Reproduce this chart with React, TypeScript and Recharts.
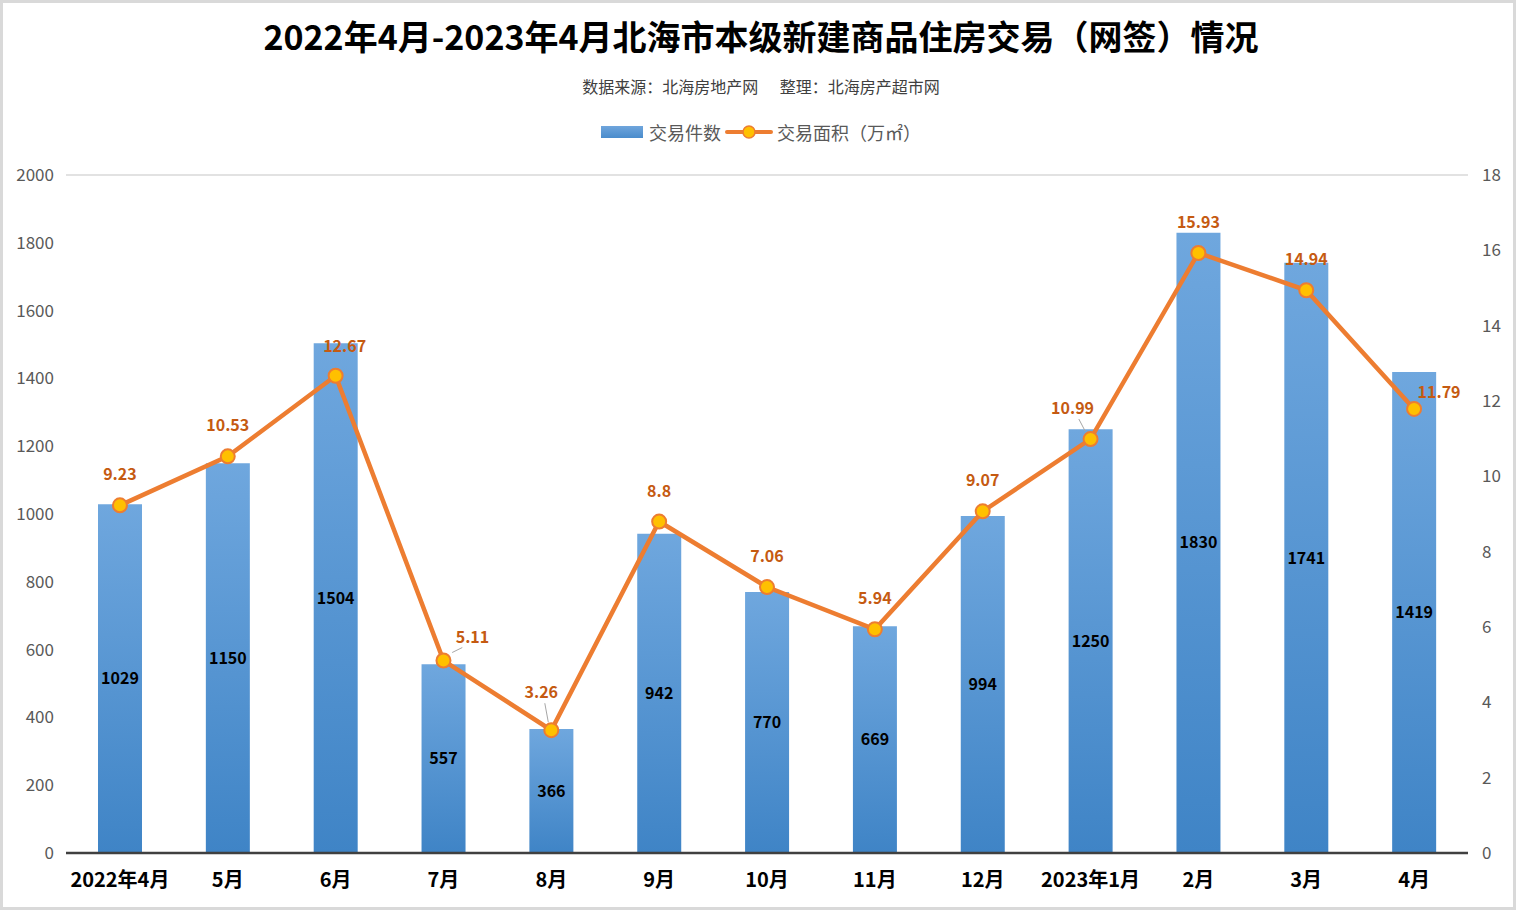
import React from "react"
import { Bar, ComposedChart, Line, XAxis, YAxis, CartesianGrid, LabelList } from "recharts"

const months = ["2022年4月", "5月", "6月", "7月", "8月", "9月", "10月", "11月", "12月", "2023年1月", "2月", "3月", "4月"]
const deals = [1029, 1150, 1504, 557, 366, 942, 770, 669, 994, 1250, 1830, 1741, 1419]
const area = [9.23, 10.53, 12.67, 5.11, 3.26, 8.8, 7.06, 5.94, 9.07, 10.99, 15.93, 14.94, 11.79]
const leftTicks = [0, 200, 400, 600, 800, 1000, 1200, 1400, 1600, 1800, 2000]
const rightTicks = [0, 2, 4, 6, 8, 10, 12, 14, 16, 18]

const data = months.map((m, i) => ({ month: m, deals: deals[i], area: area[i] }))

const font = "'Noto Sans CJK SC', 'Noto Sans', sans-serif"

// label nudges (dx, dy of label centre from the point), like the hand-moved labels in the original
const nudge: Record<number, [number, number, boolean]> = {
  2: [9, -30, false],
  3: [29, -24, true],
  4: [-10, -38, true],
  9: [-18, -31, true],
  12: [25, -17, false],
}

const AreaLabel = (props: any) => {
  const { x, y, value, index } = props
  const [dx, dy, leader] = nudge[index] ?? [0, -31, false]
  const lx = x + dx
  const ly = y + dy
  return (
    <g>
      {leader && (
        <line
          x1={x + dx * 0.3}
          y1={y + (dy < 0 ? -8 : 8)}
          x2={lx + (dx > 0 ? -dx * 0.35 : -dx * 0.35)}
          y2={ly + 11}
          stroke="#a6a6a6"
          strokeWidth={1}
        />
      )}
      <text x={lx} y={ly + 6} textAnchor="middle" fill="#c55a11" fontSize={16} fontWeight="bold" fontFamily={font}>
        {value}
      </text>
    </g>
  )
}

export default function App() {
  return (
    <div
      style={{
        position: "absolute",
        left: 0,
        top: 0,
        width: 1516,
        height: 910,
        background: "#fff",
        boxSizing: "border-box",
        border: "3px solid #d9d9d9",
        fontFamily: font,
      }}
    >
      <div style={{ position: "absolute", top: 8, left: 0, width: 1516, textAlign: "center", fontSize: 34, fontWeight: "bold", color: "#000" }}>
        2022年4月-2023年4月北海市本级新建商品住房交易（网签）情况
      </div>
      <div style={{ position: "absolute", top: 71, left: 0, width: 1516, textAlign: "center", fontSize: 16, color: "#404040" }}>
        数据来源：北海房地产网&nbsp;&nbsp;&nbsp;&nbsp;&nbsp;&nbsp;整理：北海房产超市网
      </div>
      <div style={{ position: "absolute", top: 116, left: 0, width: 1516, display: "flex", justifyContent: "center", alignItems: "center", fontSize: 18, color: "#595959" }}>
        <span style={{ display: "inline-block", width: 42, height: 12, background: "linear-gradient(#6fa5dc, #4a8ccc)", marginRight: 6 }} />
        <span>交易件数</span>
        <svg width={48} height={20} style={{ margin: "0 4px" }}>
          <line x1={2} y1={10} x2={46} y2={10} stroke="#ed7d31" strokeWidth={4} strokeLinecap="round" />
          <circle cx={24} cy={10} r={6} fill="#ffc000" stroke="#ed7d31" strokeWidth={1.5} />
        </svg>
        <span>交易面积（万㎡）</span>
      </div>
      <div style={{ position: "absolute", left: -3, top: -3 }}>
        <ComposedChart width={1516} height={910} data={data} margin={{ top: 175, right: 0, bottom: 27, left: 0 }}>
          <defs>
            <linearGradient id="barGrad" x1="0" y1="0" x2="0" y2="1">
              <stop offset="0%" stopColor="#6fa7de" />
              <stop offset="100%" stopColor="#3f84c6" />
            </linearGradient>
          </defs>
          <CartesianGrid vertical={false} stroke="#d9d9d9" strokeWidth={1.5} />
          <XAxis
            dataKey="month"
            tickLine={false}
            axisLine={{ stroke: "#404040", strokeWidth: 2.5 }}
            tick={{ fill: "#000", fontSize: 20, fontWeight: "bold", fontFamily: font }}
            tickMargin={14}
            interval={0}
          />
          <YAxis
            yAxisId="left"
            domain={[0, 2000]}
            ticks={leftTicks}
            width={66}
            axisLine={false}
            tickLine={false}
            tick={{ fill: "#595959", fontSize: 17, fontFamily: font }}
            tickMargin={6}
          />
          <YAxis
            yAxisId="right"
            orientation="right"
            domain={[0, 18]}
            ticks={rightTicks}
            width={48}
            axisLine={false}
            tickLine={false}
            tick={{ fill: "#595959", fontSize: 17, fontFamily: font }}
            tickMargin={8}
          />
          <Bar yAxisId="left" dataKey="deals" fill="url(#barGrad)" barSize={44} isAnimationActive={false}>
            <LabelList dataKey="deals" position="center" fill="#000" fontSize={16} fontWeight="bold" fontFamily={font} />
          </Bar>
          <Line
            yAxisId="right"
            dataKey="area"
            stroke="#ed7d31"
            strokeWidth={4.5}
            dot={{ r: 7, fill: "#ffc000", stroke: "#ed7d31", strokeWidth: 2 }}
            isAnimationActive={false}
          >
            <LabelList dataKey="area" content={AreaLabel} />
          </Line>
        </ComposedChart>
      </div>
    </div>
  )
}
